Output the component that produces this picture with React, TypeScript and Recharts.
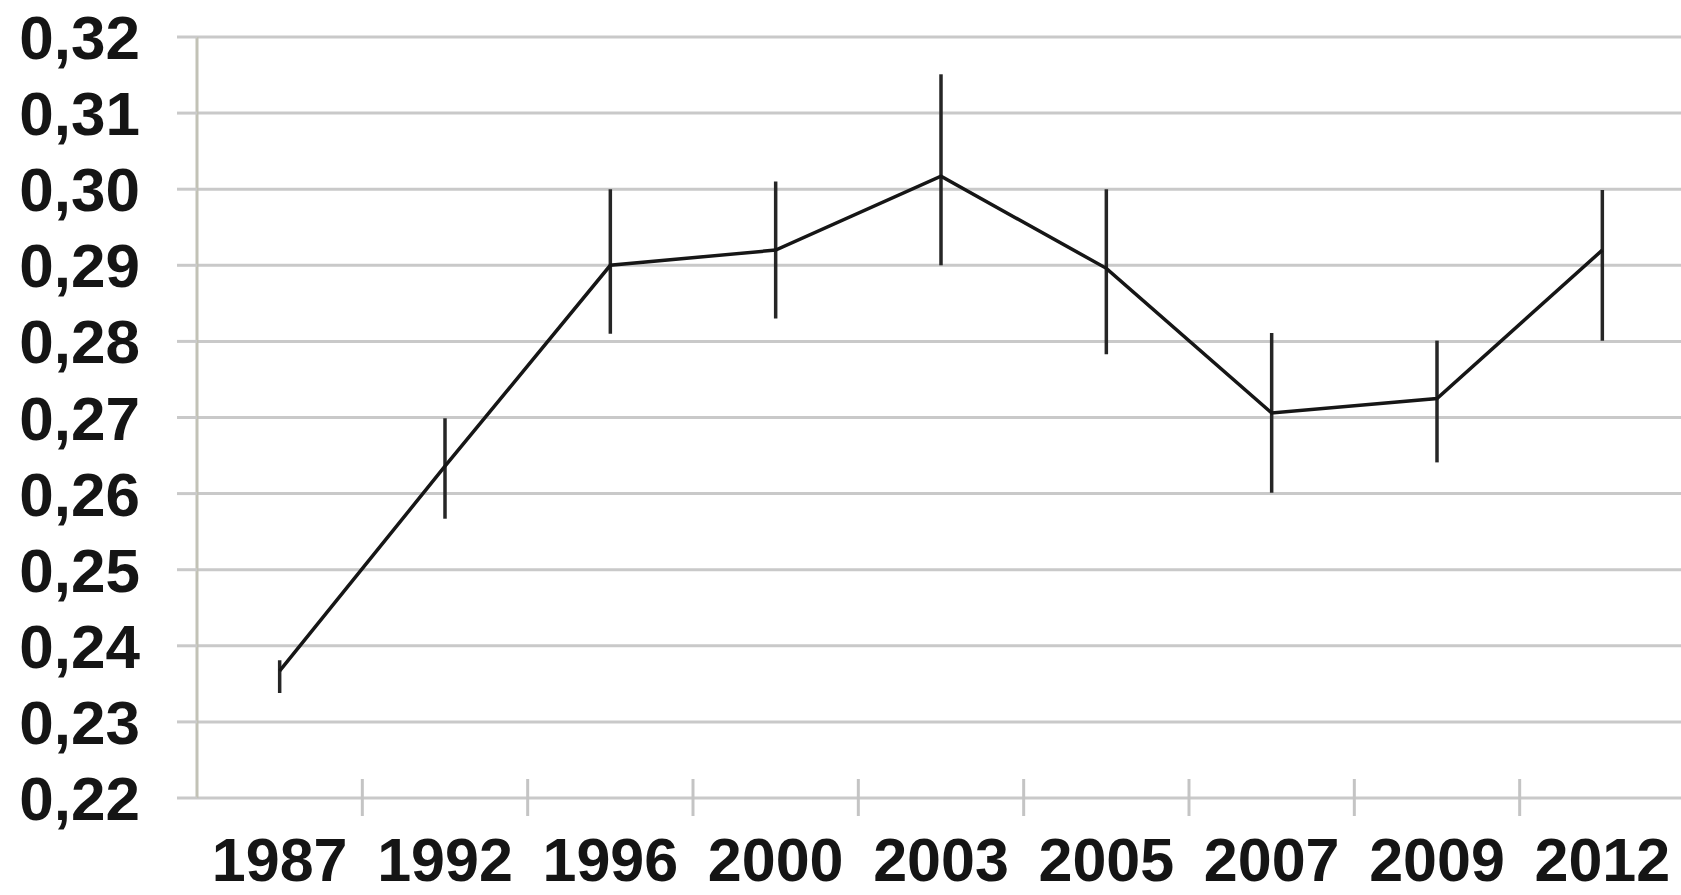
import { LineChart, Line, XAxis, YAxis, CartesianGrid, ErrorBar } from "recharts"

const years = ["1987", "1992", "1996", "2000", "2003", "2005", "2007", "2009", "2012"]
const values = [0.2367, 0.2636, 0.29, 0.292, 0.3017, 0.2896, 0.2706, 0.2725, 0.292]
const errLow = [0.0029, 0.0069, 0.009, 0.009, 0.0117, 0.0113, 0.0105, 0.0084, 0.0119]
const errHigh = [0.0014, 0.0063, 0.01, 0.009, 0.0134, 0.0104, 0.0105, 0.0076, 0.0079]
const yTicks = [0.22, 0.23, 0.24, 0.25, 0.26, 0.27, 0.28, 0.29, 0.3, 0.31, 0.32]

const data = years.map((year, i) => ({
  year,
  value: values[i],
  err: [errLow[i], errHigh[i]],
}))

const W = 1686
const H = 895
const Y_AXIS_W = 197
const MARGIN = { top: 37, right: 1, bottom: 0, left: 0 }
const X_AXIS_H = 97
const PLOT_W = W - Y_AXIS_W - MARGIN.right - MARGIN.left
const X_TICK_MARGIN = 49

const FONT = '"Liberation Sans", Arial, sans-serif'
const GRID = "#c9c9c9"

const fmt = (v: number) => v.toFixed(2).replace(".", ",")

// year labels sit in the middle of each band, tick marks on the band edges
function YearTick(props: any) {
  const { x, y, payload, index } = props
  const bw = PLOT_W / years.length
  const axisY = y - X_TICK_MARGIN
  return (
    <g>
      {index > 0 && (
        <line
          x1={x - bw / 2}
          x2={x - bw / 2}
          y1={axisY - 19}
          y2={axisY + 18}
          stroke="#c4c4c4"
          strokeWidth={3}
        />
      )}
      <text
        x={x}
        y={axisY + 83}
        textAnchor="middle"
        fontFamily={FONT}
        fontWeight="bold"
        fontSize={61}
        fill="#151515"
      >
        {payload.value}
      </text>
    </g>
  )
}

export default function App() {
  return (
    <div
      style={{
        position: "absolute",
        top: 0,
        left: 0,
        width: 1681,
        height: H,
        overflow: "hidden",
        background: "#fff",
      }}
    >
      <LineChart width={W} height={H} data={data} margin={MARGIN}>
        <CartesianGrid vertical={false} stroke={GRID} strokeWidth={3} />
        <XAxis
          dataKey="year"
          scale="band"
          height={X_AXIS_H}
          axisLine={false}
          tickLine={false}
          tickSize={0}
          tickMargin={X_TICK_MARGIN}
          interval={0}
          tick={<YearTick />}
        />
        <YAxis
          width={Y_AXIS_W}
          domain={[0.22, 0.32]}
          ticks={yTicks}
          interval={0}
          tickFormatter={fmt}
          axisLine={{ stroke: "#c2c2b6", strokeWidth: 3 }}
          tickLine={{ stroke: GRID, strokeWidth: 3 }}
          tickSize={20}
          tickMargin={37}
          tick={{ fontFamily: FONT, fontWeight: "bold", fontSize: 62, fill: "#151515" }}
        />
        <Line
          type="linear"
          dataKey="value"
          stroke="#161616"
          strokeWidth={3.5}
          dot={false}
          activeDot={false}
          isAnimationActive={false}
        >
          <ErrorBar dataKey="err" direction="y" width={0} stroke="#262626" strokeWidth={3.5} />
        </Line>
      </LineChart>
    </div>
  )
}
